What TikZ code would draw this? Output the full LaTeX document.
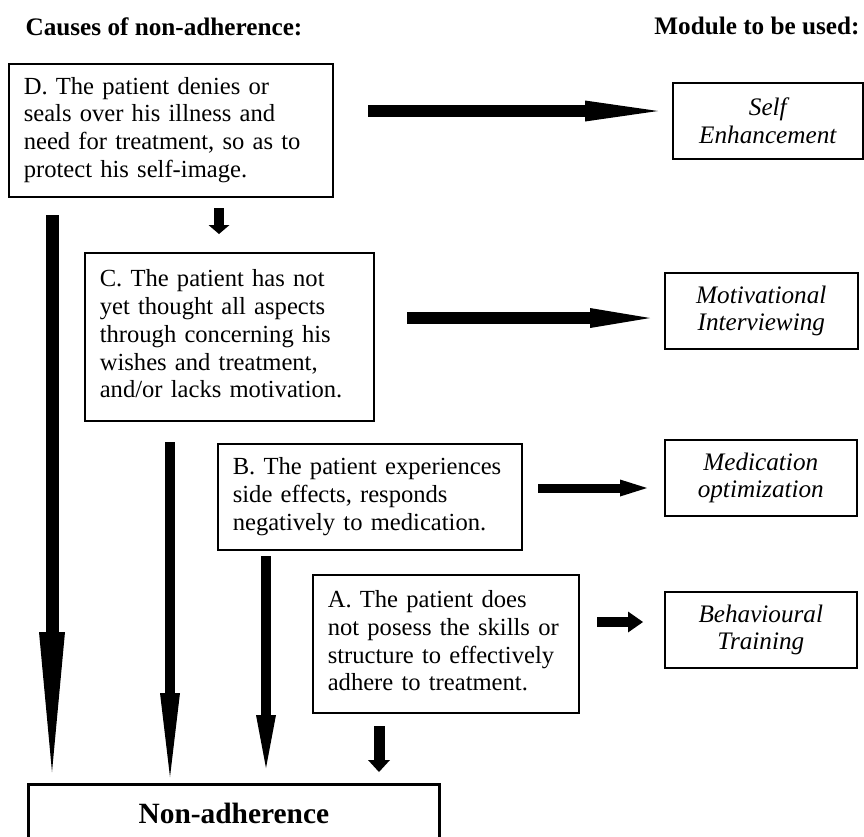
\documentclass[tikz,border=0pt]{standalone}
\usepackage{fontspec}
\setmainfont{Liberation Serif}
\usepackage{tikz}
\usetikzlibrary{arrows.meta,positioning}
\newcommand{\txt}{\fontsize{12.6pt}{13.85pt}\selectfont}
\newcommand{\bodytxt}{\fontsize{12.3pt}{13.85pt}\selectfont}
\newcommand{\lines}[1]{\begin{tabular}{@{}l@{}}#1\end{tabular}}

\tikzset{
    causebox/.style={draw, line width=0.8pt, anchor=north west, align=left,
        inner xsep=7.5pt, inner ysep=2pt, font=\bodytxt},
    modbox/.style={draw, line width=0.8pt, anchor=north west, align=center,
        inner sep=2pt, minimum width=96pt, minimum height=38pt, font=\txt\itshape},
    heading/.style={anchor=base, font=\txt\bfseries},
    % block arrow: shaft width, head length, head width
    blk/.style n args={3}{line width=#1,
        -{Triangle[length=#2, width=#3, line width=0pt]}}
}

\begin{document}
\begin{tikzpicture}[x=0.5pt, y=-0.5pt]
    \clip (0,0) rectangle (864,837);

    % headings
    \node[heading] (causes) at (164,35) {Causes of non-adherence:};
    \node[heading] (module) at (757,34) {Module to be used:};

    % causes
    \node[causebox, text width=147pt, minimum height=66.5pt] (D) at (8,63)
        {\lines{D. The patient denies or\\seals over his illness and\\need for treatment, so as to\\protect his self-image.}};
    \node[causebox, text width=129.5pt, minimum height=84pt] (C) at (84,252)
        {\lines{C. The patient has not\\yet thought all aspects\\through concerning his\\wishes and treatment,\\and/or lacks motivation.}};
    \node[causebox, text width=137pt, minimum height=53pt] (B) at (217,443)
        {\lines{B. The patient experiences\\side effects, responds\\negatively to medication.}};
    \node[causebox, text width=118pt, minimum height=69pt] (A) at (312,574)
        {\lines{A. The patient does\\not posess the skills or\\structure to effectively\\adhere to treatment.}};

    % modules
    \node[modbox, minimum width=95pt] (self) at (672,82) {Self\\Enhancement};
    \node[modbox, minimum width=96.5pt] (motiv) at (664,272) {Motivational\\Interviewing};
    \node[modbox] (medic) at (664,439) {Medication\\optimization};
    \node[modbox] (behav) at (664,591) {Behavioural\\Training};

    % result
    \node[draw, line width=1.4pt, anchor=north west, minimum width=205.5pt,
        minimum height=29pt, font=\fontsize{14.7pt}{16pt}\selectfont\bfseries]
        (non) at (27,783) {Non-adherence};

    % arrow ends
    \coordinate (D-r1) at (368,111);  \coordinate (D-r2) at (658,111);
    \coordinate (D-d1) at (219,208);  \coordinate (D-d2) at (219,234);
    \coordinate (D-n1) at (52,215);   \coordinate (D-n2) at (52,772);
    \coordinate (C-r1) at (407,318);  \coordinate (C-r2) at (650,318);
    \coordinate (C-n1) at (170,442);  \coordinate (C-n2) at (170,777);
    \coordinate (B-r1) at (538,488);  \coordinate (B-r2) at (647,488);
    \coordinate (B-n1) at (266,556);  \coordinate (B-n2) at (266,768);
    \coordinate (A-r1) at (597,622);  \coordinate (A-r2) at (643,622);
    \coordinate (A-n1) at (379,726);  \coordinate (A-n2) at (379,772);

    \draw[blk={6pt}{36.5pt}{10.5pt}] (D-r1) -- (D-r2);
    \draw[blk={5.25pt}{4.5pt}{10.5pt}] (D-d1) -- (D-d2);
    \draw[blk={6.5pt}{70pt}{13pt}] (D-n1) -- (D-n2);
    \draw[blk={6pt}{30pt}{10pt}] (C-r1) -- (C-r2);
    \draw[blk={5pt}{42pt}{10pt}] (C-n1) -- (C-n2);
    \draw[blk={4.5pt}{13.5pt}{8.5pt}] (B-r1) -- (B-r2);
    \draw[blk={5pt}{26.5pt}{10pt}] (B-n1) -- (B-n2);
    \draw[blk={5pt}{7.5pt}{10.5pt}] (A-r1) -- (A-r2);
    \draw[blk={5.5pt}{6pt}{11pt}] (A-n1) -- (A-n2);

\end{tikzpicture}
\end{document}
